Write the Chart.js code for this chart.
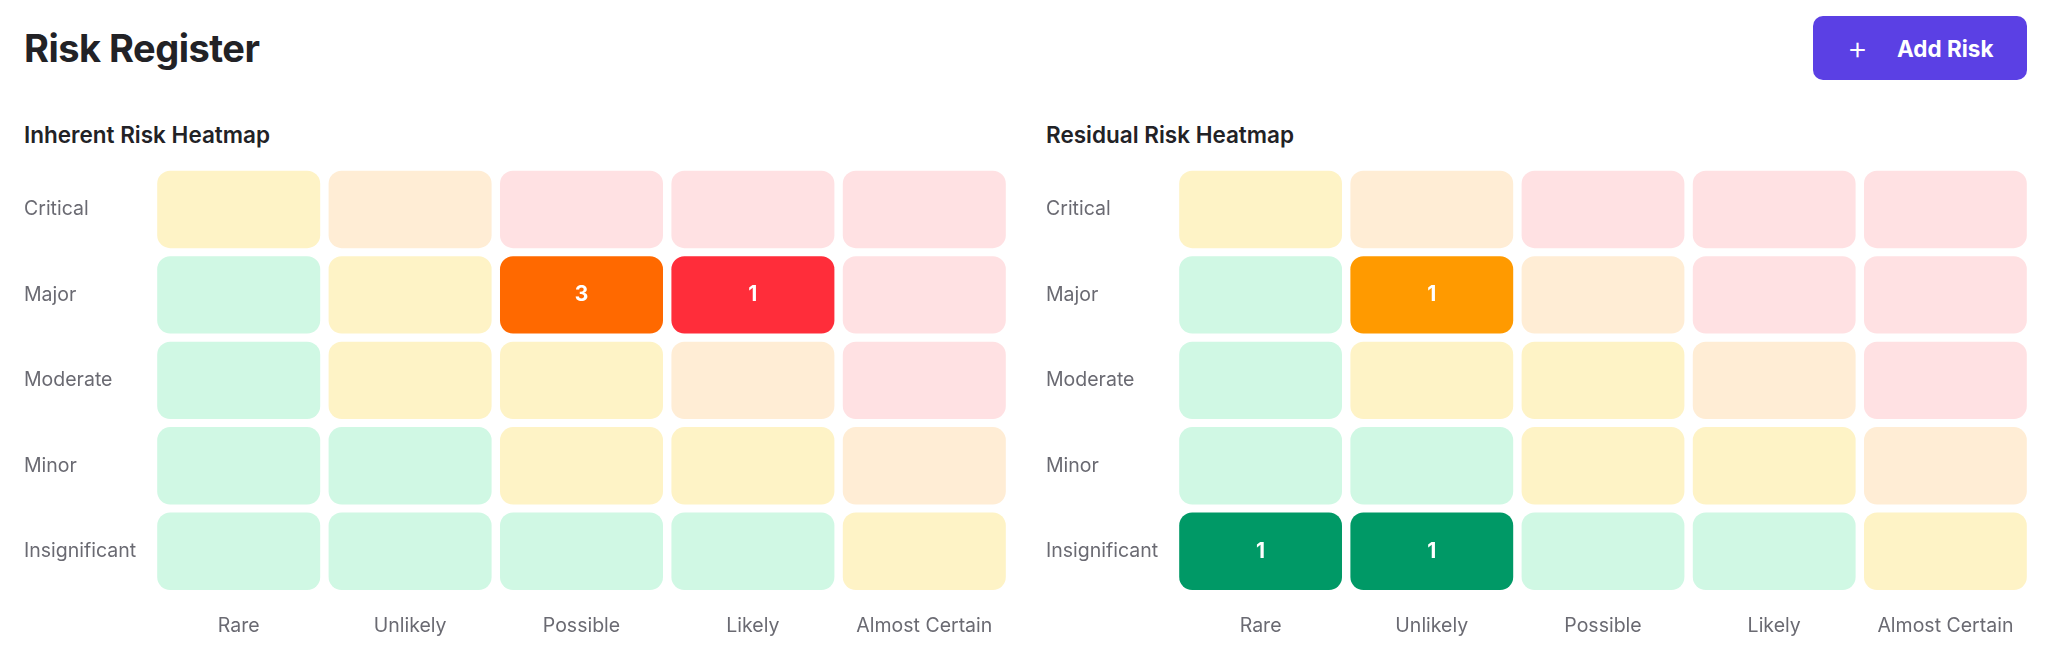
<!DOCTYPE html>
<html><head><meta charset="utf-8">
<script src="https://cdn.jsdelivr.net/npm/chart.js@4/dist/chart.umd.min.js"></script>
<style>
body{margin:0;width:2048px;height:660px;background:#fff;font-family:Inter,sans-serif;position:relative;overflow:hidden}
h1{position:absolute;left:24px;top:25px;margin:0;font-size:38px;font-weight:700;color:#222226;letter-spacing:-0.5px}
.btn{position:absolute;left:1813px;top:16px;width:214px;height:64px;background:#5B40E4;border-radius:10px;color:#fff;font-weight:700;font-size:22.5px}
.btn .p{position:absolute;left:34px;top:12px;font-size:32px;font-weight:300}
.btn .t{position:absolute;left:84px;top:19px}
h2{position:absolute;top:121px;margin:0;font-size:22.5px;font-weight:600;color:#222226}
.c{position:absolute;top:155px;height:484px}
</style></head><body>
<h1>Risk Register</h1>
<div class="btn"><span class="p">+</span><span class="t">Add Risk</span></div>
<h2 style="left:24px">Inherent Risk Heatmap</h2>
<h2 style="left:1046px">Residual Risk Heatmap</h2>
<div class="c" style="left:24px;width:986px"><canvas id="a"></canvas></div>
<div class="c" style="left:1046px;width:985px"><canvas id="b"></canvas></div>
<script>
const likelihood = ["Rare","Unlikely","Possible","Likely","Almost Certain"];
const impact = ["Critical","Major","Moderate","Minor","Insignificant"];
// risk level per cell: rows = impact (top->bottom), cols = likelihood
const levels = [
 ["Y","O","R","R","R"],
 ["G","Y","O","R","R"],
 ["G","Y","Y","O","R"],
 ["G","G","Y","Y","O"],
 ["G","G","G","G","Y"]];
const inherentCounts = [
 [0,0,0,0,0],
 [0,0,3,1,0],
 [0,0,0,0,0],
 [0,0,0,0,0],
 [0,0,0,0,0]];
const residualCounts = [
 [0,0,0,0,0],
 [0,1,0,0,0],
 [0,0,0,0,0],
 [0,0,0,0,0],
 [1,1,0,0,0]];
const light = {G:"#D0F8E4",Y:"#FEF3C6",O:"#FFEDD5",R:"#FFE1E3"};
const dark = {G:"#009966",Y:"#FF9A00",O:"#FF6900",R:"#FF2D3A"};
const g = 0.047;
function make(id, counts){
  const datasets = impact.map((name,ri)=>{
    const r = impact.length-1-ri;
    return {
      label:name,
      data: likelihood.map(()=>[r+g, r+1-g]),
      counts: counts[ri],
      backgroundColor: likelihood.map((_,ci)=> counts[ri][ci]>0 ? dark[levels[ri][ci]] : light[levels[ri][ci]]),
      borderRadius:13, borderSkipped:false, barPercentage:1, categoryPercentage:0.951, grouped:false
    };
  });
  new Chart(document.getElementById(id),{
    type:'bar',
    data:{labels:likelihood,datasets},
    options:{
      responsive:true,maintainAspectRatio:false,animation:false,
      layout:{padding:0},
      plugins:{legend:{display:false},tooltip:{enabled:false}},
      scales:{
        x:{grid:{display:false},border:{display:false},
           ticks:{color:"#6a6a72",font:{family:"Inter",size:19.5},padding:12},
           afterFit:s=>{s.height=45;}},
        y:{min:0,max:5,grid:{display:false},border:{display:false},
           afterBuildTicks:s=>{s.ticks=[0.5,1.5,2.5,3.5,4.5].map(v=>({value:v}));},
           ticks:{color:"#6a6a72",font:{family:"Inter",size:19.5},crossAlign:'far',padding:0,
             callback:v=>impact[impact.length-1-Math.floor(v)]},
           afterFit:s=>{s.width=129;}}
      }
    },
    plugins:[{id:'vals',afterDatasetsDraw(c){
      const ctx=c.ctx;ctx.save();ctx.fillStyle="#fff";ctx.font="700 21px Inter";ctx.textAlign="center";ctx.textBaseline="middle";
      c.data.datasets.forEach((ds,di)=>{c.getDatasetMeta(di).data.forEach((el,i)=>{
        const v=ds.counts[i]; if(v>0){const p=el.getCenterPoint();ctx.fillText(String(v),p.x,p.y);}
      });});ctx.restore();}}]
  });
}
make('a',inherentCounts);
make('b',residualCounts);
</script></body></html>
